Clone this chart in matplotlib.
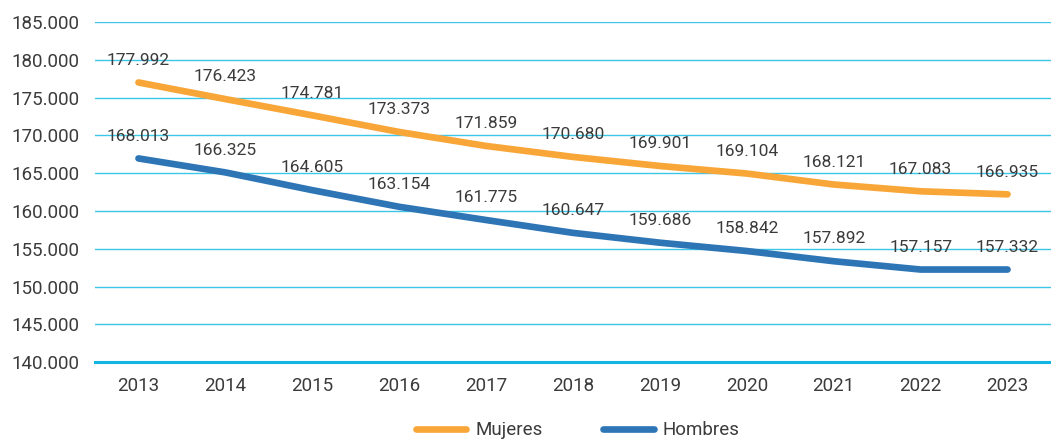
import matplotlib
matplotlib.use("Agg")
import matplotlib.pyplot as plt
from matplotlib.ticker import FuncFormatter

plt.rcParams['font.family'] = ['Roboto', 'DejaVu Sans']

# datos
anios = ['2013', '2014', '2015', '2016', '2017', '2018', '2019', '2020', '2021', '2022', '2023']
# posicion de las lineas tal como aparecen en el grafico
mujeres_linea = [177000, 174800, 172650, 170450, 168600, 167150, 165950, 164950, 163500, 162600, 162200]
hombres_linea = [166950, 165100, 162750, 160550, 158800, 157100, 155800, 154700, 153350, 152250, 152250]
# etiquetas de datos
mujeres_etiq = [177992, 176423, 174781, 173373, 171859, 170680, 169901, 169104, 168121, 167083, 166935]
hombres_etiq = [168013, 166325, 164605, 163154, 161775, 160647, 159686, 158842, 157892, 157157, 157332]

naranja = '#F9A638'
azul = '#2E75B6'
gris = '#3b3b3b'
rejilla = '#3CC6E8'


def miles(v, pos=None):
    return f'{v:,.0f}'.replace(',', '.')


fig = plt.figure(figsize=(10.51, 4.40), dpi=100)
ax = fig.add_axes([0.0904, 0.177, 0.9096, 0.773])

x = range(len(anios))
ax.plot(x, mujeres_linea, color=naranja, lw=4.8, solid_capstyle='round', label='Mujeres', zorder=3)
ax.plot(x, hombres_linea, color=azul, lw=4.8, solid_capstyle='round', label='Hombres', zorder=3)

for i in x:
    ax.annotate(miles(mujeres_etiq[i]), (i, mujeres_linea[i]), xytext=(0, 16), textcoords='offset points',
                ha='center', va='center', fontsize=12.5, color=gris)
    ax.annotate(miles(hombres_etiq[i]), (i, hombres_linea[i]), xytext=(0, 16), textcoords='offset points',
                ha='center', va='center', fontsize=12.5, color=gris)

ax.set_ylim(140000, 185000)
ax.set_xlim(-0.5, len(anios) - 0.5)
ax.set_yticks(range(140000, 185001, 5000))
ax.yaxis.set_major_formatter(FuncFormatter(miles))
ax.set_xticks(list(x))
ax.set_xticklabels(anios)
ax.grid(axis='y', color=rejilla, lw=1.0)
ax.set_axisbelow(True)
for s in ['top', 'right', 'left']:
    ax.spines[s].set_visible(False)
ax.spines['bottom'].set_color('#11B5E4')
ax.spines['bottom'].set_linewidth(2.2)
ax.tick_params(axis='both', length=0, labelsize=13.5, colors=gris)
ax.tick_params(axis='y', pad=11)
ax.tick_params(axis='x', pad=11)

ax.legend(loc='center', bbox_to_anchor=(0.505, -0.2), ncol=2, frameon=False, fontsize=13.5,
          handlelength=2.7, handletextpad=0.5, columnspacing=3.2, labelcolor=gris)

fig.savefig('out.png', dpi=100)
